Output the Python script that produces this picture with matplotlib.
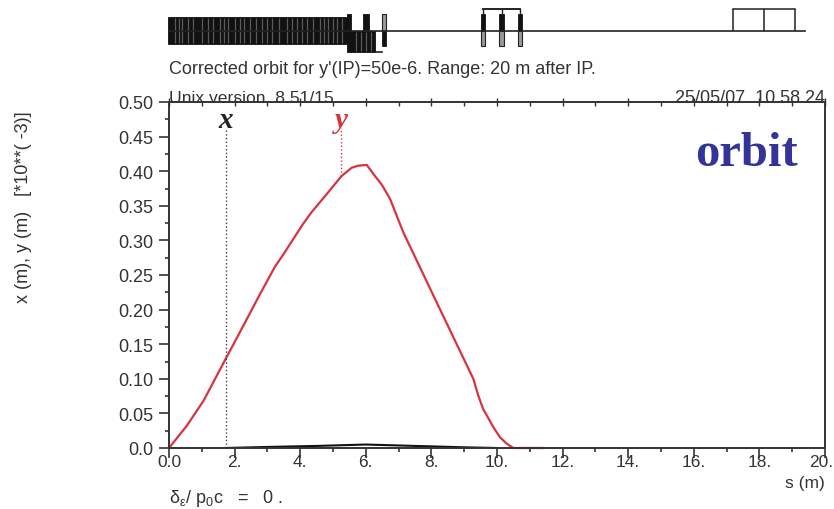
import matplotlib
matplotlib.use('Agg')
import matplotlib.pyplot as plt
from matplotlib.patches import Rectangle
from matplotlib.transforms import ScaledTranslation

plt.rcParams['font.family'] = ['Liberation Sans', 'DejaVu Sans']
plt.rcParams['mathtext.default'] = 'regular'

W, H = 834, 510

# orbit curves
s_y = [0.0, 0.54, 1.05, 1.73, 2.27, 2.77, 3.23, 3.49, 3.79, 4.09, 4.35, 4.81, 5.26, 5.57, 5.77, 6.03, 6.28, 6.48, 6.74, 7.14,
       8.16, 9.28, 9.43, 9.58, 9.69, 9.89, 10.09, 10.3, 10.5, 11.4]
y_orbit = [0.0, 0.032, 0.068, 0.129, 0.177, 0.222, 0.262, 0.28, 0.302, 0.324, 0.341, 0.367, 0.393, 0.405, 0.408, 0.409, 0.393, 0.381, 0.36, 0.312,
           0.2105, 0.0997, 0.0756, 0.056, 0.047, 0.03, 0.0155, 0.006, 0.0, 0.0]
s_x = [1.7, 3.0, 4.5, 6.0, 7.5, 9.0, 10.0]
x_orbit = [0.0, 0.0015, 0.003, 0.005, 0.003, 0.001, 0.0]

x_ticks = [0, 2, 4, 6, 8, 10, 12, 14, 16, 18, 20]
x_labels = ['0.0', '2.', '4.', '6.', '8.', '10.', '12.', '14.', '16.', '18.', '20.']
y_ticks = [0.0, 0.05, 0.10, 0.15, 0.20, 0.25, 0.30, 0.35, 0.40, 0.45, 0.50]
y_labels = ['0.0', '0.05', '0.10', '0.15', '0.20', '0.25', '0.30', '0.35', '0.40', '0.45', '0.50']

# marker lines for the x and y labels
x_mark_s = 1.75
y_mark_s = 5.24
y_mark_val = 0.393

# beamline elements: start, end, top, bottom
dark_elements = [
    (-0.03, 5.43, 14, -13),
    (5.43, 5.55, 17, -21),
    (5.55, 6.28, 0, -21),
    (5.91, 6.10, 17, 0),
    (6.49, 6.62, 0, -15),
    (9.50, 9.64, 17, 0),
    (10.07, 10.21, 17, 0),
    (10.63, 10.77, 17, 0),
]
light_elements = [
    (6.49, 6.62, 17, 0),
    (9.50, 9.64, 0, -15),
    (10.07, 10.21, 0, -15),
    (10.63, 10.77, 0, -15),
]
block_gaps = [0.18, 0.3, 0.39, 0.58, 0.72, 1.0, 1.19, 1.33, 1.55, 1.68, 1.8, 2.0, 2.16, 2.3, 2.47, 2.65, 2.83, 3.0,
              3.14, 3.35, 3.6, 3.75, 3.9, 4.05, 4.2, 4.4, 4.6, 4.72, 4.85, 5.0, 5.12, 5.28]
lower_gaps = [5.7, 5.85, 6.0, 6.15]
box_edges = [17.19, 18.14, 19.09]
link_s = [9.57, 10.70]
quad_s = [9.57, 10.14, 10.70]
beam_end = 19.4
box_top = 21.5

fig = plt.figure(figsize=(W / 100, H / 100), dpi=100)

# main plot
ax = fig.add_axes([169 / W, 1 - 449 / H, 656 / W, 346 / H])
ax.plot(s_x, x_orbit, color='#111111', lw=1.5)
ax.plot(s_y, y_orbit, color='#d8343f', lw=1.6, clip_on=False)
ax.plot([x_mark_s, x_mark_s], [0, 0.462], color='#444444', lw=1, ls=':')
ax.plot([y_mark_s, y_mark_s], [y_mark_val, 0.462], color='#d8343f', lw=1, ls=':')

ax.set_xlim(0, 20)
ax.set_ylim(0, 0.5)
ax.set_xticks(x_ticks)
ax.set_xticklabels(x_labels)
ax.set_yticks(y_ticks)
ax.set_yticklabels(y_labels)
ax.set_xticks([v + 1 for v in x_ticks[:-1]], minor=True)
ax.set_yticks([v + 0.025 for v in y_ticks[:-1]], minor=True)
ax.tick_params(axis='both', which='major', length=7, width=1.2, color='#333333', labelcolor='#333333')
ax.tick_params(axis='both', which='minor', length=3, width=1.2, color='#333333')
ax.tick_params(axis='x', which='major', pad=-3, labelsize=12.5)
ax.tick_params(axis='y', which='major', pad=4, labelsize=13)
for side in ax.spines.values():
    side.set_linewidth(1.4)
    side.set_color('#333333')

# the last label sits a bit left so it stays in the picture
last = ax.get_xticklabels()[-1]
last.set_transform(last.get_transform() + ScaledTranslation(-3.5 / 100, 0, fig.dpi_scale_trans))

# ticks on the top edge
top = ax.secondary_xaxis('top')
top.set_xticks(x_ticks)
top.set_xticklabels([])
top.set_xticks([v + 1 for v in x_ticks[:-1]], minor=True)
top.tick_params(axis='x', which='major', direction='inout', length=6, width=1, color='#333333')
top.tick_params(axis='x', which='minor', direction='in', length=3, width=1, color='#333333')
top.spines['top'].set_visible(False)

# beamline sketch on top, same s scale as the plot
beam = fig.add_axes([169 / W, 1 - 60 / H, 656 / W, 60 / H])
beam.set_xlim(0, 20)
beam.set_ylim(-28.5, 31.5)
beam.axis('off')
for s0, s1, y1, y0 in dark_elements:
    beam.add_patch(Rectangle((s0, y0), s1 - s0, y1 - y0, fc='#111111', ec='#111111', lw=0.6, clip_on=False))
for s0, s1, y1, y0 in light_elements:
    beam.add_patch(Rectangle((s0, y0), s1 - s0, y1 - y0, fc='#999999', ec='#222222', lw=0.8, clip_on=False))
beam.vlines(block_gaps, -12, 13, color='#5a5a5a', lw=0.9)
beam.vlines(lower_gaps, -20, -1, color='#5a5a5a', lw=0.9)
beam.plot([-0.03, beam_end], [0, 0], color='#222222', lw=1.2)
beam.plot([6.28, 6.49], [-21, -21], color='#222222', lw=1.2)
beam.plot(link_s, [box_top, box_top], color='#111111', lw=1.3)
beam.vlines(quad_s, 17, box_top, color='#222222', lw=1)
beam.vlines(box_edges, 0, box_top, color='#222222', lw=1.1)
beam.plot([box_edges[0], box_edges[-1]], [box_top, box_top], color='#222222', lw=1.1)

# texts
def put(px, py, txt, **kw):
    fig.text(px / W, 1 - py / H, txt, **kw)

put(169, 74, "Corrected orbit for y'(IP)=50e-6. Range: 20 m after IP.", fontsize=13, color='#333333', va='baseline')
put(169, 103, 'Unix version  8.51/15', fontsize=12.6, color='#333333', va='baseline')
put(825, 103, '25/05/07  10.58.24', fontsize=13, color='#333333', va='baseline', ha='right')
put(24, 207, 'x (m), y (m)   [*10**( -3)]', fontsize=13, color='#333333', rotation=90, ha='center', va='center')
put(825, 488, 's (m)', fontsize=12.5, color='#333333', ha='right', va='baseline')
put(169, 503, 'δ$_{ε}$/ p$_{0}$c   =   0 .', fontsize=13, color='#333333', va='baseline')
put(226, 128, 'x', family='Liberation Serif', weight='bold', style='italic', fontsize=21, color='#222222', ha='center', va='baseline')
put(341, 128, 'y', family='Liberation Serif', weight='bold', style='italic', fontsize=21, color='#d8343f', ha='center', va='baseline')
put(746, 166, 'orbit', family='Liberation Serif', weight='bold', fontsize=35, color='#333399', ha='center', va='baseline')

fig.savefig('out.png', dpi=100)
